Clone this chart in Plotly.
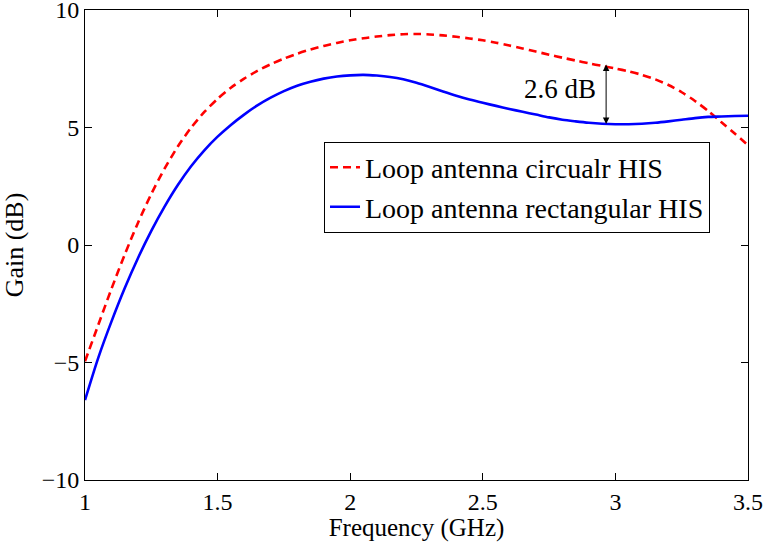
import plotly.graph_objects as go

# Measured gain of the loop antenna over two HIS ground planes
freq_ghz = [1.00, 1.05, 1.10, 1.15, 1.20, 1.25, 1.30, 1.35, 1.40, 1.45,
            1.50, 1.55, 1.60, 1.65, 1.70, 1.75, 1.80, 1.85, 1.90, 1.95,
            2.00, 2.05, 2.10, 2.15, 2.20, 2.25, 2.30, 2.35, 2.40, 2.45,
            2.50, 2.55, 2.60, 2.65, 2.70, 2.75, 2.80, 2.85, 2.90, 2.95,
            3.00, 3.05, 3.10, 3.15, 3.20, 3.25, 3.30, 3.35, 3.40, 3.45, 3.50]
gain_circular = [-4.95, -3.40, -1.86, -0.40, 0.95, 2.17, 3.25, 4.19, 4.99, 5.66,
                 6.22, 6.69, 7.08, 7.41, 7.69, 7.93, 8.14, 8.32, 8.47, 8.60,
                 8.71, 8.80, 8.87, 8.93, 8.97, 8.98, 8.96, 8.92, 8.86, 8.79,
                 8.71, 8.61, 8.49, 8.36, 8.23, 8.10, 7.97, 7.85, 7.73, 7.62,
                 7.51, 7.39, 7.24, 7.05, 6.81, 6.50, 6.13, 5.70, 5.22, 4.74, 4.25]
gain_rectangular = [-6.60, -4.80, -3.25, -1.83, -0.55, 0.60, 1.63, 2.55, 3.35, 4.03,
                    4.61, 5.11, 5.55, 5.94, 6.27, 6.55, 6.78, 6.95, 7.08, 7.17,
                    7.22, 7.24, 7.21, 7.15, 7.05, 6.90, 6.72, 6.53, 6.35, 6.19,
                    6.05, 5.92, 5.79, 5.67, 5.55, 5.43, 5.33, 5.26, 5.20, 5.16,
                    5.14, 5.14, 5.16, 5.20, 5.26, 5.33, 5.40, 5.45, 5.47, 5.49, 5.50]

series_names = ["Loop antenna circualr HIS", "Loop antenna rectangular HIS"]

# Gap marker between the two curves
gap_freq = 2.965
gap_base = 5.15
gap_db = 2.6
gap_label = "2.6 dB"

x_ticks = [1, 1.5, 2, 2.5, 3, 3.5]
y_ticks = [-10, -5, 0, 5, 10]

FONT = "'Liberation Serif', 'DejaVu Serif', serif"

fig = go.Figure()
fig.add_trace(go.Scatter(
    x=freq_ghz, y=gain_circular, mode="lines", name=series_names[0],
    line=dict(color="#ff0000", width=2.6, dash="8px,5px", shape="spline", smoothing=0.8),
))
fig.add_trace(go.Scatter(
    x=freq_ghz, y=gain_rectangular, mode="lines", name=series_names[1],
    line=dict(color="#0000ff", width=2.6, shape="spline", smoothing=0.8),
))

# Double-headed arrow spanning the gain difference
fig.add_annotation(
    x=gap_freq, y=gap_base, ax=gap_freq, ay=gap_base + gap_db,
    xref="x", yref="y", axref="x", ayref="y",
    text="", showarrow=True, arrowhead=2, startarrowhead=2,
    arrowside="end+start", arrowsize=1.3, arrowwidth=1, arrowcolor="black",
    standoff=0, startstandoff=0,
)
fig.add_annotation(
    x=gap_freq - 0.03, y=gap_base + gap_db / 2 + 0.2, xref="x", yref="y",
    text=gap_label, showarrow=False, xanchor="right", yanchor="middle",
    font=dict(family=FONT, size=27, color="black"),
)

axis_common = dict(
    showline=True, linecolor="black", linewidth=1, mirror="ticks",
    ticks="inside", ticklen=7, tickcolor="black", tickwidth=1,
    showgrid=False, zeroline=False, automargin=False,
    ticklabeloverflow="allow",
    tickfont=dict(family=FONT, size=24, color="black"),
)

fig.update_xaxes(
    range=[1, 3.5], tickvals=x_ticks, ticktext=[f"{v:g}" for v in x_ticks],
    title=dict(text="Frequency (GHz)", font=dict(family=FONT, size=25, color="black"), standoff=0),
    **axis_common,
)
fig.update_yaxes(
    range=[-10, 10], tickvals=y_ticks,
    ticktext=[f"{v}".replace("-", "\u2212") for v in y_ticks],
    title=dict(text="Gain (dB)", font=dict(family=FONT, size=26, color="black"), standoff=10),
    **axis_common,
)

fig.update_layout(
    width=766, height=542,
    margin=dict(l=85, r=18, t=10, b=62),
    paper_bgcolor="white", plot_bgcolor="white",
    font=dict(family=FONT, color="black"),
    showlegend=True,
    legend=dict(
        x=0.3605, y=0.72, xanchor="left", yanchor="top",
        bgcolor="white", bordercolor="black", borderwidth=1,
        font=dict(family=FONT, size=28, color="black"),
        tracegroupgap=0, itemwidth=30,
    ),
)

fig.write_html("out.html")
